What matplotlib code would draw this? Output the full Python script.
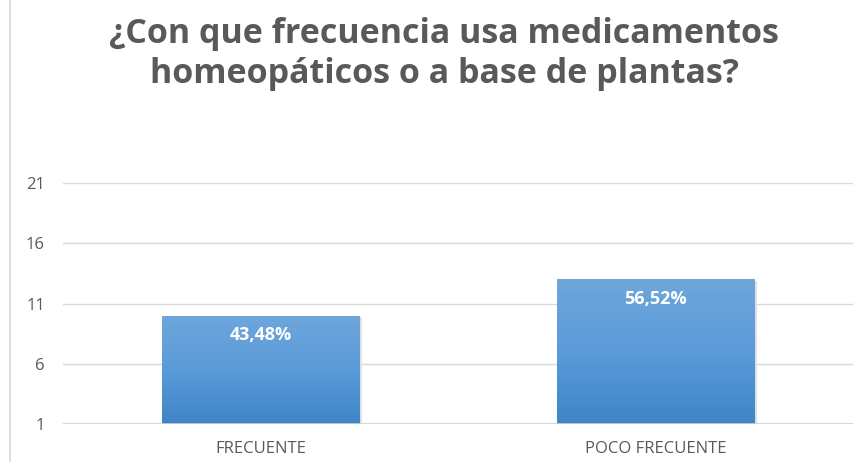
import numpy as np
import matplotlib
matplotlib.use("Agg")
import matplotlib.pyplot as plt
from matplotlib.colors import LinearSegmentedColormap
from matplotlib.lines import Line2D

categories = ["FRECUENTE", "POCO FRECUENTE"]
counts = [10, 13]
labels = ["43,48%", "56,52%"]
yticks = [1, 6, 11, 16, 21]
title = "¿Con que frecuencia usa medicamentos\nhomeopáticos o a base de plantas?"

W, H = 864, 462
fig = plt.figure(figsize=(W / 100, H / 100), dpi=100)
fig.patch.set_facecolor("white")

ax = fig.add_axes([63 / W, (H - 424) / H, (853 - 63) / W, (424 - 183) / H])
ax.set_xlim(-0.5, 1.5)
ax.set_ylim(1, 21)

x = np.arange(len(categories))
bars = ax.bar(x, [c - 1 for c in counts], bottom=1, width=0.5,
              color="none", edgecolor="none", zorder=3)

cmap = LinearSegmentedColormap.from_list("g", ["#3E85C7", "#5A9BD9", "#6FA6DC"])
grad = np.linspace(0, 1, 256).reshape(-1, 1)
for b in bars:
    x0, y0 = b.get_x(), b.get_y()
    w, h = b.get_width(), b.get_height()
    ax.bar(x0 + w / 2 + 0.008, h, bottom=y0 - 0.12, width=w, color="#e0e0e0",
           edgecolor="none", zorder=2)
    im = ax.imshow(grad, extent=[x0, x0 + w, y0, y0 + h], origin="lower",
                   cmap=cmap, aspect="auto", zorder=3)
    im.set_clip_path(b)

for xi, c, lab in zip(x, counts, labels):
    ax.text(xi, c - 1.65, lab, ha="center", va="center", color="white",
            fontsize=13, fontweight="bold", family="Open Sans", zorder=5)

ax.set_xlim(-0.5, 1.5)
ax.set_ylim(1, 21)
ax.set_yticks(yticks)
ax.set_yticklabels([str(t) for t in yticks], family="Open Sans", fontsize=12,
                   color="#595959")
ax.set_xticks(x)
ax.set_xticklabels(categories, family="Open Sans", fontsize=12, color="#595959")
ax.tick_params(axis="both", length=0)
ax.tick_params(axis="y", pad=13)
ax.tick_params(axis="x", pad=12)
for s in ax.spines.values():
    s.set_visible(False)
ax.grid(axis="y", color="#d9d9d9", linewidth=1, zorder=0)
ax.set_axisbelow(True)
ax.axhline(1, color="#d0d0d0", linewidth=1.2, zorder=4)

fig.text(0.514, 0.883, title, ha="center", va="center", fontsize=24.5,
         fontweight="bold", family="Open Sans", color="#595959", linespacing=1.22)

fig.add_artist(Line2D([10 / W, 10 / W], [0, 1], color="#d9d9d9", linewidth=1.2))

fig.savefig("out.png", dpi=100, facecolor="white")
